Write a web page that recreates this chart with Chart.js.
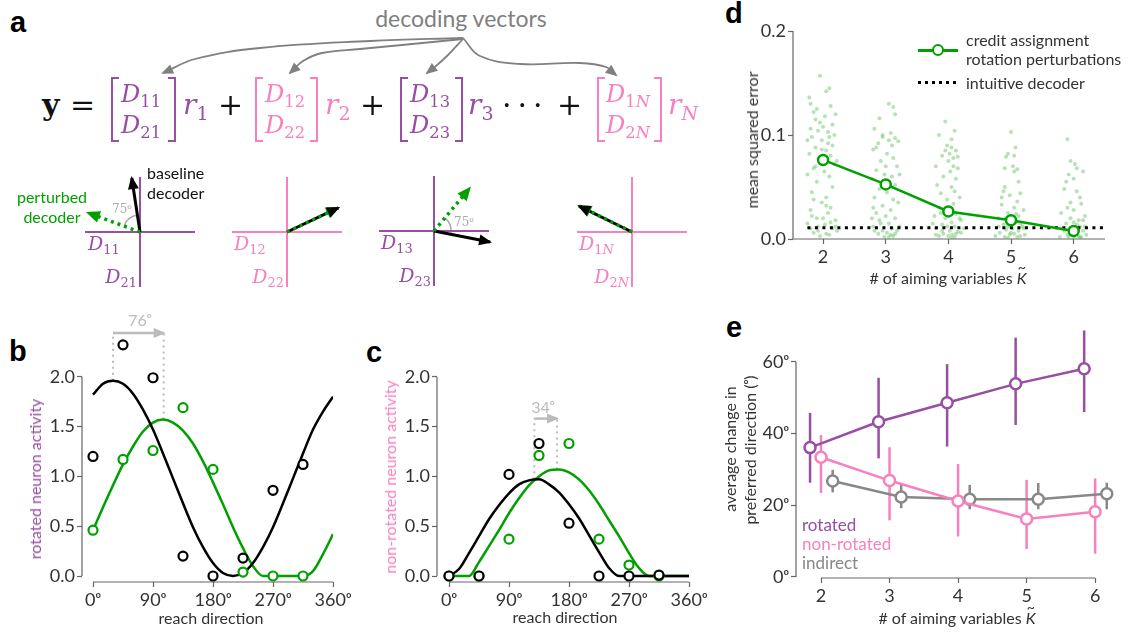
<!DOCTYPE html>
<html>
<head>
<meta charset="utf-8">
<script src="https://cdn.jsdelivr.net/npm/chart.js@4.4.1/dist/chart.umd.min.js"></script>
<style>
html, body { margin: 0; padding: 0; background: #fff; }
body { position: relative; width: 1134px; height: 632px; overflow: hidden; font-family: Lato, 'DejaVu Sans', sans-serif; color: #333; }
canvas { position: absolute; }
.t { position: absolute; white-space: nowrap; line-height: 1; }
.c { transform: translate(-50%, -50%); }
.v { transform: translate(-50%, -50%) rotate(-90deg); }
.r { transform: translateX(-100%); }
.lbl { font-family: 'Liberation Sans', sans-serif; font-weight: bold; font-size: 29px; color: #000; }
.m { font-family: 'DejaVu Serif', serif; font-style: italic; }
.m sub { font-style: normal; font-size: 0.68em; vertical-align: -0.3em; }
.m sub i { font-style: italic; }
.op { font-family: 'DejaVu Serif', serif; font-size: 30px; color: #111; }
.br { position: absolute; }
.br::before, .br::after { content: ''; position: absolute; top: 0; bottom: 0; width: 6px; border: 2px solid currentColor; }
.br::before { left: 0; border-right: none; }
.br::after { right: 0; border-left: none; }
.ax { font-size: 16px; color: #333; }
.kt { position: relative; font-style: italic; }
.kt span { position: absolute; left: 1px; top: -8px; font-style: normal; font-size: 14px; }
</style>
</head>
<body>

<!-- panel letters -->
<div class="t lbl" style="left:10px;top:8px">a</div>
<div class="t lbl" style="left:9px;top:337px">b</div>
<div class="t lbl" style="left:366px;top:338px">c</div>
<div class="t lbl" style="left:725px;top:-1px">d</div>
<div class="t lbl" style="left:726px;top:313px">e</div>

<!-- panel a: equation -->
<div class="t c" style="left:461px;top:18px;font-size:23px;color:#808080">decoding vectors</div>
<canvas id="fan" width="500" height="55" style="left:140px;top:28px"></canvas>

<div class="t op" style="left:42px;top:90px;font-weight:bold">y</div>
<div class="t op" style="left:70px;top:90px">=</div>

<div class="br" style="left:111px;top:77px;width:65px;height:65px;color:#984ea3"></div>
<div class="t m" style="left:121px;top:82px;font-size:24px;color:#984ea3">D<sub>11</sub></div>
<div class="t m" style="left:121px;top:113px;font-size:24px;color:#984ea3">D<sub>21</sub></div>
<div class="t m" style="left:183px;top:91px;font-size:28px;color:#984ea3">r<sub>1</sub></div>
<div class="t op" style="left:218px;top:90px">+</div>

<div class="br" style="left:255px;top:77px;width:63px;height:65px;color:#f781bf"></div>
<div class="t m" style="left:265px;top:82px;font-size:24px;color:#f781bf">D<sub>12</sub></div>
<div class="t m" style="left:265px;top:113px;font-size:24px;color:#f781bf">D<sub>22</sub></div>
<div class="t m" style="left:325px;top:91px;font-size:28px;color:#f781bf">r<sub>2</sub></div>
<div class="t op" style="left:360px;top:90px">+</div>

<div class="br" style="left:400px;top:77px;width:63px;height:65px;color:#984ea3"></div>
<div class="t m" style="left:410px;top:82px;font-size:24px;color:#984ea3">D<sub>13</sub></div>
<div class="t m" style="left:410px;top:113px;font-size:24px;color:#984ea3">D<sub>23</sub></div>
<div class="t m" style="left:468px;top:91px;font-size:28px;color:#984ea3">r<sub>3</sub></div>
<div class="t op" style="left:502px;top:90px;letter-spacing:6px">···</div>
<div class="t op" style="left:557px;top:90px">+</div>

<div class="br" style="left:597px;top:77px;width:65px;height:65px;color:#f781bf"></div>
<div class="t m" style="left:606px;top:82px;font-size:24px;color:#f781bf">D<sub>1<i>N</i></sub></div>
<div class="t m" style="left:606px;top:113px;font-size:24px;color:#f781bf">D<sub>2<i>N</i></sub></div>
<div class="t m" style="left:668px;top:91px;font-size:28px;color:#f781bf">r<sub><i>N</i></sub></div>

<!-- panel a: decoder diagrams -->
<canvas id="m1" width="140" height="140" style="left:70px;top:162px"></canvas>
<canvas id="m2" width="140" height="140" style="left:217px;top:162px"></canvas>
<canvas id="m3" width="140" height="140" style="left:364px;top:161px"></canvas>
<canvas id="m4" width="140" height="140" style="left:562px;top:162px"></canvas>

<div class="t" style="left:147px;top:165px;font-size:16px;color:#111">baseline</div>
<div class="t" style="left:147px;top:185px;font-size:16px;color:#111">decoder</div>
<div class="t c" style="left:52px;top:197px;font-size:16px;color:#00a000">perturbed</div>
<div class="t c" style="left:52px;top:217px;font-size:16px;color:#00a000">decoder</div>
<div class="t c" style="left:122px;top:209px;font-size:12px;color:#aaa;font-family:'DejaVu Serif'">75ᵒ</div>
<div class="t c" style="left:464px;top:222px;font-size:12px;color:#aaa;font-family:'DejaVu Serif'">75ᵒ</div>

<div class="t m" style="left:88px;top:234px;font-size:19px;color:#984ea3">D<sub>11</sub></div>
<div class="t m r" style="left:137px;top:267px;font-size:19px;color:#984ea3">D<sub>21</sub></div>
<div class="t m" style="left:234px;top:234px;font-size:19px;color:#f781bf">D<sub>12</sub></div>
<div class="t m r" style="left:284px;top:267px;font-size:19px;color:#f781bf">D<sub>22</sub></div>
<div class="t m" style="left:381px;top:233px;font-size:19px;color:#984ea3">D<sub>13</sub></div>
<div class="t m r" style="left:431px;top:266px;font-size:19px;color:#984ea3">D<sub>23</sub></div>
<div class="t m" style="left:579px;top:234px;font-size:19px;color:#f781bf">D<sub>1<i>N</i></sub></div>
<div class="t m r" style="left:629px;top:267px;font-size:19px;color:#f781bf">D<sub>2<i>N</i></sub></div>

<!-- panels b, c -->
<canvas id="cb" width="360" height="342" style="left:0px;top:290px"></canvas>
<canvas id="cc" width="360" height="342" style="left:360px;top:290px"></canvas>
<div class="t c" style="left:140px;top:320px;font-size:16px;color:#bbb">76ᵒ</div>
<div class="t c" style="left:543px;top:407px;font-size:16px;color:#bbb">34ᵒ</div>
<div class="t v ax" style="left:35px;top:479px;color:#984ea3">rotated neuron activity</div>
<div class="t v ax" style="left:390px;top:477px;color:#f781bf">non-rotated neuron activity</div>
<div class="t c ax" style="left:211px;top:618px">reach direction</div>
<div class="t c ax" style="left:565px;top:617px">reach direction</div>

<!-- panel d -->
<canvas id="cd" width="434" height="290" style="left:700px;top:0px"></canvas>
<div class="t v ax" style="left:752px;top:140px">mean squared error</div>
<div class="t c ax" style="left:948px;top:278px"># of aiming variables <span class="kt">K<span>~</span></span></div>
<div style="position:absolute;left:918px;top:49px;width:40px;height:3px;background:#00a000"></div>
<div style="position:absolute;left:932px;top:44px;width:8px;height:8px;border:2.5px solid #00a000;border-radius:50%;background:#fff"></div>
<div class="t ax" style="left:966px;top:32px">credit assignment</div>
<div class="t ax" style="left:966px;top:51px">rotation perturbations</div>
<div style="position:absolute;left:918px;top:81px;width:40px;height:3px;background:repeating-linear-gradient(90deg,#000 0 3px,transparent 3px 7px)"></div>
<div class="t ax" style="left:966px;top:75px">intuitive decoder</div>

<!-- panel e -->
<canvas id="ce" width="434" height="332" style="left:700px;top:300px"></canvas>
<div class="t v ax" style="left:730px;top:449px">average change in</div>
<div class="t v ax" style="left:750px;top:450px">preferred direction (ᵒ)</div>
<div class="t c ax" style="left:957px;top:618px"># of aiming variables <span class="kt">K<span>~</span></span></div>
<div class="t" style="left:802px;top:516px;font-size:17px;color:#984ea3">rotated</div>
<div class="t" style="left:802px;top:535px;font-size:17px;color:#f781bf">non-rotated</div>
<div class="t" style="left:802px;top:554px;font-size:17px;color:#888">indirect</div>

<script>
// ---- data ----
const reachDirs = [0, 45, 90, 135, 180, 225, 270, 315];
const fitDirs = [0, 15, 30, 45, 60, 75, 90, 105, 120, 135, 150, 165, 180, 195, 210, 225, 240, 255, 270, 285, 300, 315, 330, 345, 360];
const dirTicks = [0, 90, 180, 270, 360];
const activityTicks = [0, 0.5, 1, 1.5, 2];

// b: rotated neuron
const bBaseObs = [1.2, 2.32, 1.99, 0.2, 0.0, 0.18, 0.86, 1.12];
const bPertObs = [0.46, 1.17, 1.26, 1.69, 1.07, 0.04, 0.0, 0.0];
const bBaseFit = [1.82, 1.93, 1.96, 1.93, 1.83, 1.67, 1.47, 1.23, 0.98, 0.73, 0.49, 0.29, 0.13, 0.03, 0.0, 0.03, 0.13, 0.29, 0.49, 0.73, 0.98, 1.23, 1.47, 1.65, 1.8];
const bPertFit = [0.46, 0.69, 0.91, 1.12, 1.3, 1.45, 1.54, 1.57, 1.54, 1.46, 1.33, 1.15, 0.94, 0.72, 0.49, 0.28, 0.1, 0.0, 0.0, 0.0, 0.0, 0.0, 0.05, 0.22, 0.42];
const bPrefDirs = [30, 106];
const bPrefPeaks = [1.96, 1.57];
const bShiftLevel = 2.44;

// c: non-rotated neuron
const cBaseObs = [0.0, 0.0, 1.02, 1.33, 0.53, 0.0, 0.0, 0.01];
const cPertObs = [0.0, 0.0, 0.37, 1.21, 1.33, 0.37, 0.11, 0.0];
const cBaseFit = [0.0, 0.07, 0.23, 0.4, 0.57, 0.71, 0.83, 0.92, 0.96, 0.97, 0.92, 0.84, 0.72, 0.58, 0.41, 0.24, 0.08, 0.0, 0.0, 0.0, 0.0, 0.0, 0.0, 0.0, 0.0];
const cPertFit = [0.0, 0.0, 0.0, 0.14, 0.3, 0.46, 0.63, 0.78, 0.91, 1.0, 1.06, 1.07, 1.04, 0.97, 0.86, 0.72, 0.56, 0.4, 0.23, 0.08, 0.0, 0.0, 0.0, 0.0, 0.0];
const cPrefDirs = [128, 162];
const cPrefPeaks = [0.97, 1.07];
const cShiftLevel = 1.58;

// d: mean squared error vs number of aiming variables
const aimK = [2, 3, 4, 5, 6];
const mseMean = [0.076, 0.0525, 0.0265, 0.018, 0.0077];
const intuitiveMse = 0.0109;
const intuitiveSpan = [1.75, 6.5];
const mseTicks = [0, 0.1, 0.2];
// [offset from K, mse] of individual perturbations
const trialsK2 = [[-0.05,0.157],[0.1,0.145],[0.05,0.142],[-0.22,0.136],[-0.2,0.13],[0.12,0.128],[-0.1,0.125],[-0.15,0.122],[0.03,0.118],[-0.05,0.112],[0.15,0.11],[-0.2,0.106],[-0.08,0.104],[0.08,0.103],[0.1,0.098],[-0.18,0.098],[-0.02,0.095],[0.15,0.09],[-0.12,0.088],[0.05,0.085],[-0.22,0.082],[0.12,0.08],[-0.05,0.078],[0.18,0.072],[-0.15,0.068],[0.02,0.065],[-0.25,0.062],[0.1,0.06],[-0.1,0.055],[0.15,0.05],[-0.18,0.045],[0.05,0.04],[-0.02,0.035],[0.12,0.03],[-0.2,0.028],[0.08,0.025],[-0.1,0.02],[0.2,0.018],[-0.25,0.015],[0.03,0.014],[-0.08,0.012],[0.15,0.01],[0.22,0.008],[-0.15,0.006],[0.05,0.005],[-0.05,0.003],[0.1,0.004],[-0.2,0.01],[0.2,0.12],[-0.12,0.115],[0.0,0.108],[0.18,0.1],[-0.25,0.095],[0.08,0.092],[-0.02,0.086],[0.22,0.075],[-0.12,0.07],[0.0,0.02],[0.12,0.016],[-0.18,0.022],[0.2,0.012],[-0.08,0.008],[0.05,0.032],[-0.15,0.038]];
const trialsK3 = [[0.05,0.13],[0.12,0.127],[0.15,0.12],[-0.1,0.116],[-0.18,0.106],[0.08,0.102],[-0.05,0.1],[0.15,0.097],[0.05,0.095],[-0.12,0.092],[0.1,0.09],[-0.2,0.086],[0.02,0.082],[0.12,0.078],[-0.08,0.075],[0.18,0.07],[-0.15,0.066],[-0.02,0.062],[0.1,0.06],[-0.22,0.058],[0.05,0.055],[0.15,0.052],[-0.1,0.048],[0.02,0.045],[-0.18,0.04],[0.12,0.038],[0.2,0.035],[-0.05,0.032],[0.08,0.028],[-0.15,0.025],[0.0,0.022],[0.15,0.02],[-0.1,0.018],[0.05,0.015],[-0.2,0.012],[0.1,0.01],[0.18,0.008],[-0.05,0.008],[0.02,0.006],[-0.12,0.005],[0.08,0.004],[0.12,0.003],[-0.02,0.002],[0.22,0.012],[-0.22,0.02],[-0.05,0.098],[0.2,0.094],[-0.15,0.088],[0.0,0.07],[0.22,0.062],[-0.08,0.015],[0.15,0.005],[-0.18,0.008],[0.05,0.002],[0.1,0.05],[-0.2,0.03]];
const trialsK4 = [[-0.05,0.113],[0.1,0.104],[-0.15,0.1],[0.05,0.096],[-0.02,0.09],[0.05,0.088],[0.12,0.085],[-0.1,0.08],[0.08,0.078],[0.0,0.075],[-0.2,0.07],[0.15,0.068],[0.03,0.065],[-0.08,0.06],[0.12,0.058],[-0.18,0.052],[0.05,0.05],[0.1,0.046],[-0.12,0.044],[0.18,0.04],[-0.02,0.038],[0.08,0.034],[-0.15,0.03],[0.0,0.027],[0.12,0.024],[-0.22,0.022],[-0.05,0.02],[0.2,0.018],[0.05,0.016],[-0.1,0.014],[0.1,0.012],[-0.2,0.01],[0.02,0.008],[0.15,0.007],[-0.08,0.005],[0.06,0.004],[-0.15,0.003],[0.1,0.002],[0.0,0.003],[0.2,0.006],[-0.25,0.015],[0.25,0.01],[0.02,0.082],[-0.05,0.085],[0.15,0.079],[0.08,0.07],[-0.12,0.025],[0.18,0.02],[-0.02,0.012],[0.12,0.005],[-0.2,0.004],[0.05,0.001],[-0.1,0.008]];
const trialsK5 = [[0.0,0.103],[0.07,0.088],[-0.05,0.082],[-0.08,0.079],[0.03,0.07],[0.1,0.067],[0.05,0.065],[-0.1,0.05],[-0.12,0.046],[0.15,0.044],[-0.02,0.042],[0.1,0.036],[-0.15,0.033],[0.05,0.03],[0.2,0.028],[-0.05,0.025],[0.12,0.022],[-0.2,0.02],[0.0,0.018],[0.08,0.016],[-0.12,0.014],[0.18,0.012],[0.02,0.01],[-0.08,0.009],[0.12,0.008],[-0.18,0.006],[0.05,0.005],[-0.02,0.004],[0.22,0.004],[-0.25,0.003],[0.1,0.002],[-0.1,0.002],[0.15,0.015],[-0.05,0.012],[0.05,0.08],[-0.1,0.068],[0.12,0.055],[-0.15,0.04],[0.08,0.024],[-0.08,0.02],[0.2,0.01],[0.0,0.006],[-0.2,0.012],[0.15,0.003],[-0.05,0.001]];
const trialsK6 = [[-0.1,0.096],[-0.05,0.075],[0.02,0.072],[0.15,0.065],[-0.08,0.062],[0.0,0.058],[-0.15,0.048],[0.05,0.046],[0.12,0.034],[-0.1,0.03],[0.0,0.028],[-0.2,0.025],[0.18,0.022],[-0.05,0.02],[0.08,0.018],[0.0,0.016],[-0.12,0.015],[0.1,0.012],[-0.18,0.01],[0.05,0.009],[0.15,0.008],[-0.05,0.006],[0.02,0.005],[-0.1,0.004],[0.2,0.004],[0.08,0.003],[-0.22,0.002],[0.12,0.002],[0.0,0.001],[-0.02,0.011],[0.05,0.068],[-0.12,0.055],[0.1,0.04],[-0.05,0.035],[0.15,0.018],[-0.15,0.008],[0.05,0.014],[0.18,0.012],[-0.08,0.002],[0.0,0.007],[0.1,0.001]];

// e: change in preferred direction
const rotatedMean = [36.1, 43.3, 48.6, 53.9, 58.1];
const rotatedLo = [26.3, 33.1, 36.4, 42.4, 46.0];
const rotatedHi = [45.8, 55.6, 59.4, 66.8, 68.8];
const nonRotMean = [33.4, 26.9, 21.2, 16.2, 18.2];
const nonRotLo = [23.4, 15.8, 11.3, 7.8, 6.5];
const nonRotHi = [39.6, 36.2, 31.5, 27.1, 27.5];
const indirectMean = [26.8, 22.3, 21.7, 21.7, 23.2];
const indirectLo = [23.6, 19.2, 18.9, 18.9, 18.9];
const indirectHi = [29.9, 26.2, 25.7, 26.2, 26.3];
const groupOffsets = [-0.16, 0, 0.17];
const pdTicks = [0, 20, 40, 60];

// a: decoder vectors (base, perturbed) for the four example neurons
const miniBase = [[-0.15, 0.98], [0.93, 0.44], [1.02, -0.2], [-0.96, 0.47]];
const miniPert = [[-0.95, 0.35], [0.93, 0.44], [0.65, 0.78], [-0.96, 0.47]];
const miniArcs = [[98, 160], null, [-11, 50], null];
// a: curved pointers from the "decoding vectors" caption
const fanPaths = [
  [[323, 10], [230, 13], [120, 20], [55, 31], [23, 45]],
  [[323, 11], [262, 17], [220, 21], [182, 25], [163, 33], [150, 45]],
  [[323, 11], [308, 27], [296, 38], [287, 45]],
  [[323, 10], [340, 28], [380, 36], [440, 35], [466, 39], [476, 47]]
];

const PURPLE = '#984ea3', PINK = '#f781bf', GREEN = '#00a000', GREY = '#888888';

Chart.defaults.font.family = "Lato, 'DejaVu Sans', sans-serif";
Chart.defaults.font.size = 18;
Chart.defaults.color = '#333';

// ---- plugins ----
const spinePlugin = {
  id: 'spines',
  beforeDatasetsDraw: function (chart, args, opts) {
    if (!opts || (!opts.x && !opts.y)) {
      return;
    }
    const ctx = chart.ctx, area = chart.chartArea, sx = chart.scales.x, sy = chart.scales.y;
    ctx.save();
    ctx.strokeStyle = '#666';
    ctx.lineWidth = 1.2;
    ctx.beginPath();
    if (opts.x) {
      ctx.moveTo(sx.getPixelForValue(opts.x[0]), area.bottom);
      ctx.lineTo(sx.getPixelForValue(opts.x[1]), area.bottom);
    }
    if (opts.y) {
      ctx.moveTo(area.left, sy.getPixelForValue(opts.y[0]));
      ctx.lineTo(area.left, sy.getPixelForValue(opts.y[1]));
    }
    ctx.stroke();
    ctx.restore();
  }
};

const errorBarPlugin = {
  id: 'errorBars',
  beforeDatasetsDraw: function (chart) {
    const ctx = chart.ctx, sy = chart.scales.y;
    chart.data.datasets.forEach(function (ds, i) {
      if (!ds.errLo) {
        return;
      }
      const meta = chart.getDatasetMeta(i);
      ctx.save();
      ctx.strokeStyle = ds.borderColor;
      ctx.lineWidth = 2.5;
      meta.data.forEach(function (p, j) {
        ctx.beginPath();
        ctx.moveTo(p.x, sy.getPixelForValue(ds.errLo[j]));
        ctx.lineTo(p.x, sy.getPixelForValue(ds.errHi[j]));
        ctx.stroke();
      });
      ctx.restore();
    });
  }
};

const arrowHeadPlugin = {
  id: 'arrowHeads',
  afterDatasetsDraw: function (chart) {
    const ctx = chart.ctx;
    chart.data.datasets.forEach(function (ds, i) {
      if (!ds.head) {
        return;
      }
      const pts = chart.getDatasetMeta(i).data;
      const a = pts[pts.length - 2], b = pts[pts.length - 1];
      const ang = Math.atan2(b.y - a.y, b.x - a.x);
      const L = ds.head, W = ds.head * 0.5;
      ctx.save();
      ctx.fillStyle = ds.borderColor;
      ctx.translate(b.x, b.y);
      ctx.rotate(ang);
      ctx.beginPath();
      ctx.moveTo(2, 0);
      ctx.lineTo(-L, W);
      ctx.lineTo(-L, -W);
      ctx.closePath();
      ctx.fill();
      ctx.restore();
    });
  }
};

const angleArcPlugin = {
  id: 'angleArc',
  beforeDatasetsDraw: function (chart, args, opts) {
    if (!opts || !opts.span) {
      return;
    }
    const ctx = chart.ctx, sx = chart.scales.x, sy = chart.scales.y;
    const cx = sx.getPixelForValue(0), cy = sy.getPixelForValue(0);
    const rad = sx.getPixelForValue(opts.r) - cx;
    ctx.save();
    ctx.strokeStyle = '#aaa';
    ctx.lineWidth = 1.5;
    ctx.beginPath();
    ctx.arc(cx, cy, rad, -opts.span[1] * Math.PI / 180, -opts.span[0] * Math.PI / 180);
    ctx.stroke();
    ctx.restore();
  }
};

Chart.register(spinePlugin, errorBarPlugin, arrowHeadPlugin, angleArcPlugin);

// ---- helpers ----
function pts(xs, ys) {
  return xs.map(function (x, i) { return { x: x, y: ys[i] }; });
}

function axis(min, max, ticks, fmt, size) {
  return {
    type: 'linear',
    min: min,
    max: max,
    afterBuildTicks: function (s) {
      s.ticks = ticks.map(function (v) { return { value: v }; });
    },
    afterFit: function (s) {
      if (s.isHorizontal()) {
        s.height = size;
      } else {
        s.width = size;
      }
    },
    grid: { drawOnChartArea: false, tickLength: 5, tickColor: '#666', tickWidth: 1.2 },
    border: { display: false },
    ticks: { padding: 2, color: '#333', font: { size: 18 }, callback: fmt, autoSkip: false, maxRotation: 0 }
  };
}

function hiddenAxis(min, max, reverse) {
  return { type: 'linear', display: false, min: min, max: max, reverse: !!reverse };
}

const deg = function (v) { return v + 'ᵒ'; };
const oneDec = function (v) { return v.toFixed(1); };
const plain = function (v) { return String(v); };

const baseOptions = {
  responsive: false,
  animation: false,
  devicePixelRatio: 1,
  events: []
};

function opts(extra) {
  return Object.assign({}, baseOptions, extra);
}

// ---- panel a ----
new Chart(document.getElementById('fan'), {
  type: 'scatter',
  data: {
    datasets: fanPaths.map(function (p) {
      return {
        data: pts(p.map(function (q) { return q[0]; }), p.map(function (q) { return q[1]; })),
        showLine: true, borderColor: '#808080', borderWidth: 1.8, pointRadius: 0, tension: 0.4, head: 10, clip: false
      };
    })
  },
  options: opts({
    layout: { padding: 0 },
    plugins: { legend: { display: false }, tooltip: { enabled: false } },
    scales: { x: hiddenAxis(0, 500), y: hiddenAxis(0, 55, true) }
  })
});

['m1', 'm2', 'm3', 'm4'].forEach(function (id, k) {
  const axisColor = k % 2 === 0 ? PURPLE : PINK;
  new Chart(document.getElementById(id), {
    type: 'scatter',
    data: {
      datasets: [
        { data: pts([0, miniPert[k][0]], [0, miniPert[k][1]]), showLine: true, borderColor: GREEN, borderWidth: 3.5, borderDash: [3, 4], pointRadius: 0, head: 12, clip: false },
        { data: pts([0, miniBase[k][0]], [0, miniBase[k][1]]), showLine: true, borderColor: '#000', borderWidth: 3, pointRadius: 0, head: 11, clip: false },
        { data: pts([-1, 1], [0, 0]), showLine: true, borderColor: axisColor, borderWidth: 2, pointRadius: 0 },
        { data: pts([0, 0], [-1, 1]), showLine: true, borderColor: axisColor, borderWidth: 2, pointRadius: 0 }
      ]
    },
    options: opts({
      layout: { padding: 0 },
      plugins: { legend: { display: false }, tooltip: { enabled: false }, angleArc: { span: miniArcs[k], r: 0.31 } },
      scales: { x: hiddenAxis(-70 / 55, 70 / 55), y: hiddenAxis(-70 / 55, 70 / 55) }
    })
  });
});

// ---- panels b, c ----
function observed(ys, color) {
  return { data: pts(reachDirs, ys), showLine: false, borderColor: color, backgroundColor: '#fff', pointRadius: 4.5, pointBorderWidth: 2.2 };
}
function fitted(ys, color) {
  return { data: pts(fitDirs, ys), showLine: true, borderColor: color, borderWidth: 2.5, pointRadius: 0, cubicInterpolationMode: 'monotone' };
}
function guide(dir, peak, level) {
  return { data: pts([dir, dir], [peak, level]), showLine: true, borderColor: '#bbb', borderWidth: 2, borderDash: [2, 4], pointRadius: 0 };
}
function shift(dirs, level) {
  return { data: pts(dirs, [level, level]), showLine: true, borderColor: '#bbb', borderWidth: 2.5, pointRadius: 0, head: 10 };
}

function tuningChart(id, cfg) {
  return new Chart(document.getElementById(id), {
    type: 'scatter',
    data: {
      datasets: [
        observed(cfg.baseObs, '#000'),
        observed(cfg.pertObs, GREEN),
        fitted(cfg.baseFit, '#000'),
        fitted(cfg.pertFit, GREEN),
        guide(cfg.pref[0], cfg.peaks[0], cfg.level),
        guide(cfg.pref[1], cfg.peaks[1], cfg.level),
        shift(cfg.pref, cfg.level)
      ]
    },
    options: opts({
      layout: { padding: { top: 17, right: cfg.padRight, left: 0, bottom: 0 } },
      plugins: { legend: { display: false }, tooltip: { enabled: false }, spines: { x: [0, 360], y: [0, 2] } },
      scales: {
        x: axis(cfg.xMin, 360, dirTicks, deg, 50),
        y: axis(-0.06, 2.7, activityTicks, oneDec, cfg.yWidth)
      }
    })
  });
}

tuningChart('cb', { baseObs: bBaseObs, pertObs: bPertObs, baseFit: bBaseFit, pertFit: bPertFit,
  pref: bPrefDirs, peaks: bPrefPeaks, level: bShiftLevel, xMin: -16.5, yWidth: 82, padRight: 27 });
tuningChart('cc', { baseObs: cBaseObs, pertObs: cPertObs, baseFit: cBaseFit, pertFit: cPertFit,
  pref: cPrefDirs, peaks: cPrefPeaks, level: cShiftLevel, xMin: -18, yWidth: 77, padRight: 31 });

// ---- panel d ----
const trialColumns = [trialsK2, trialsK3, trialsK4, trialsK5, trialsK6];
const trialPoints = [];
trialColumns.forEach(function (col, k) {
  col.forEach(function (p) { trialPoints.push({ x: aimK[k] + p[0], y: p[1] }); });
});

new Chart(document.getElementById('cd'), {
  type: 'scatter',
  data: {
    datasets: [
      { data: pts(aimK, mseMean), showLine: true, borderColor: GREEN, borderWidth: 2.5, backgroundColor: '#fff', pointRadius: 5, pointBorderWidth: 2.5 },
      { data: pts(intuitiveSpan, [intuitiveMse, intuitiveMse]), showLine: true, borderColor: '#000', borderWidth: 3, borderDash: [3, 4.5], pointRadius: 0 },
      { data: trialPoints, showLine: false, backgroundColor: 'rgba(80,185,80,0.42)', borderWidth: 0, pointRadius: 2 }
    ]
  },
  options: opts({
    layout: { padding: { top: 31, right: 29, left: 0, bottom: 0 } },
    plugins: { legend: { display: false }, tooltip: { enabled: false }, spines: { x: [1.52, 6.5], y: [0, 0.2] } },
    scales: {
      x: axis(1.52, 6.5, aimK, plain, 51),
      y: axis(0, 0.2, mseTicks, oneDec, 93)
    }
  })
});

// ---- panel e ----
function pdSeries(mean, lo, hi, offset, color) {
  return {
    data: pts(aimK.map(function (k) { return k + offset; }), mean),
    errLo: lo, errHi: hi,
    showLine: true, borderColor: color, borderWidth: 2.5, backgroundColor: '#fff', pointRadius: 5.5, pointBorderWidth: 2.5
  };
}

new Chart(document.getElementById('ce'), {
  type: 'scatter',
  data: {
    datasets: [
      pdSeries(rotatedMean, rotatedLo, rotatedHi, groupOffsets[0], PURPLE),
      pdSeries(nonRotMean, nonRotLo, nonRotHi, groupOffsets[1], PINK),
      pdSeries(indirectMean, indirectLo, indirectHi, groupOffsets[2], GREY)
    ]
  },
  options: opts({
    layout: { padding: { top: 19, right: 19, left: 0, bottom: 0 } },
    plugins: { legend: { display: false }, tooltip: { enabled: false }, spines: { x: [2, 6], y: [0, 60] } },
    scales: {
      x: axis(1.635, 6.29, aimK, plain, 54),
      y: axis(-0.3, 72, pdTicks, deg, 96)
    }
  })
});
</script>
</body>
</html>
